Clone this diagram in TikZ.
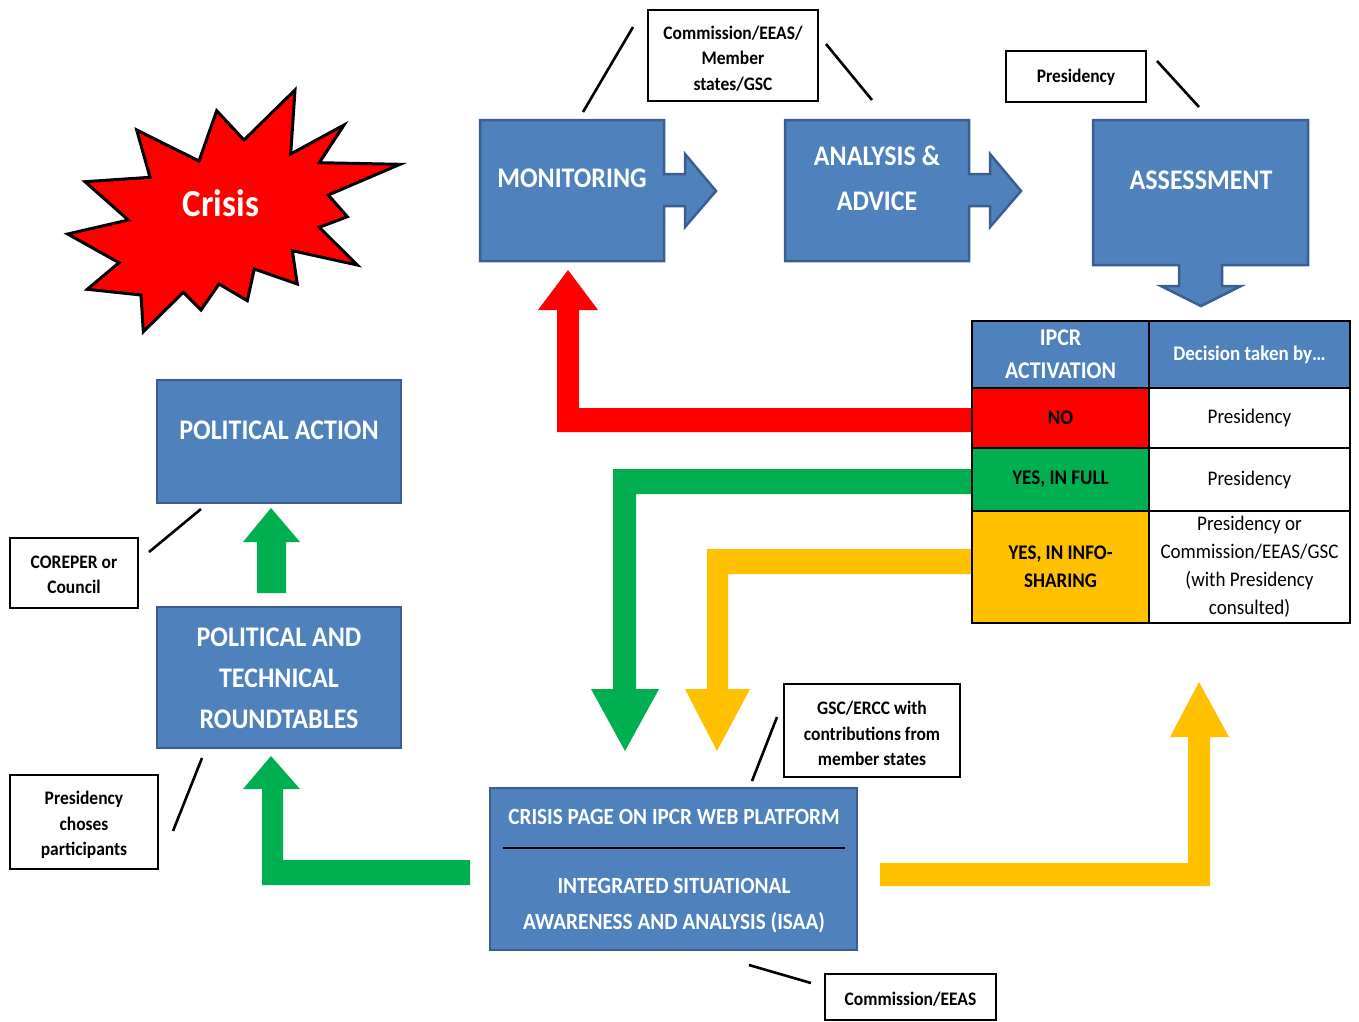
\documentclass[tikz,border=0pt]{standalone}
\usepackage{fontspec}
\setmainfont{Carlito}[FakeStretch=0.915]
\definecolor{ipblue}{HTML}{4F81BD}
\definecolor{ipborder}{HTML}{3A5F8F}
\definecolor{ipred}{HTML}{FF0000}
\definecolor{ipgreen}{HTML}{00B050}
\definecolor{ipyellow}{HTML}{FFC000}
\begin{document}
\begin{tikzpicture}[x=1pt,y=-1pt,line join=miter,
  bluebox/.style={fill=ipblue,draw=ipborder,line width=2.5pt},
  bigtxt/.style={text=white,font=\bfseries\fontsize{28.4}{45}\selectfont,align=center,inner sep=0pt},
  lblbox/.style={draw=black,line width=2.6pt,fill=white,inner sep=0pt},
  lbltxt/.style={align=center,inner sep=0pt,font=\bfseries\fontsize{19.1}{25.5}\selectfont},
  cell/.style={draw=black,line width=1.8pt,inner sep=0pt,align=center},
  tick/.style={line width=2.6pt,draw=black}]
\useasboundingbox (0,0) rectangle (1359,1021);

% ---------- Crisis star ----------
\filldraw[fill=ipred,draw=black,line width=3pt]
 (295,90) -- (290.7,154) -- (344,125) -- (319.3,162.7) -- (400,164.3) -- (328.3,195)
 -- (347.3,216.7) -- (319.3,227.3) -- (357.3,265) -- (292.3,250.7) -- (297.3,284)
 -- (254.3,269) -- (247.3,300.7) -- (219,284) -- (201,310) -- (183.3,292.3)
 -- (143.3,331.7) -- (141,295) -- (87.3,289.3) -- (119,262.7) -- (67.7,234)
 -- (128.3,220) -- (85,181.7) -- (150,177.3) -- (136.7,130) -- (199,161)
 -- (216.7,110.7) -- (244,140) -- cycle;
\node[text=white,font=\bfseries\fontsize{38.3}{40}\selectfont,inner sep=0pt] (crisis) at (221,203) {Crisis};

% ---------- top callout boxes ----------
\filldraw[bluebox] (480,120) -- (664,120) -- (664,174) -- (685,174) -- (685,154)
  -- (716,191) -- (685,227) -- (685,206) -- (664,206) -- (664,261) -- (480,261) -- cycle;
\node[bigtxt] (mon) at (572,178) {MONITORING};

\filldraw[bluebox] (785,120) -- (969,120) -- (969,174) -- (990,174) -- (990,154)
  -- (1021,191) -- (990,227) -- (990,206) -- (969,206) -- (969,261) -- (785,261) -- cycle;
\node[bigtxt] (ana) at (877,178) {ANALYSIS \&\\ADVICE};

\filldraw[bluebox] (1093,120) -- (1308,120) -- (1308,265) -- (1222,265) -- (1222,286)
  -- (1241,286) -- (1201,306) -- (1161,286) -- (1179,286) -- (1179,265) -- (1093,265) -- cycle;
\node[bigtxt] (ass) at (1201,180) {ASSESSMENT};

% ---------- label boxes (top) ----------
\node[lblbox,minimum width=170pt,minimum height=91pt] (lab1) at (733,55.5) {};
\node[lbltxt] (lab1t) at (733,58.5) {Commission/EEAS/\\Member\\states/GSC};
\draw[tick] (583,112) -- (633,27);
\draw[tick] (826,44) -- (872,100);
\node[lblbox,minimum width=140pt,minimum height=51pt] (lab2) at (1076,76.5) {};
\node[lbltxt] (lab2t) at (1076,77.5) {Presidency};
\draw[tick] (1157,61) -- (1199,107);

% ---------- coloured arrows ----------
\fill[ipred] (972,408) -- (579,408) -- (579,310) -- (598,310) -- (568,270) -- (538,310)
  -- (557,310) -- (557,432) -- (972,432) -- cycle;
\fill[ipgreen] (972,469) -- (613,469) -- (613,689) -- (591,689) -- (625,751) -- (659,689)
  -- (636,689) -- (636,494) -- (972,494) -- cycle;
\fill[ipyellow] (972,549) -- (707,549) -- (707,689) -- (685,689) -- (717,751) -- (750,689)
  -- (728,689) -- (728,574) -- (972,574) -- cycle;
\fill[ipyellow] (880,863) -- (1188,863) -- (1188,737) -- (1170,737) -- (1199,682) -- (1229,737)
  -- (1210,737) -- (1210,886) -- (880,886) -- cycle;
\fill[ipgreen] (470,860) -- (283,860) -- (283,789) -- (300,789) -- (271,756) -- (243,789)
  -- (262,789) -- (262,885) -- (470,885) -- cycle;
\fill[ipgreen] (257,593) -- (257,542) -- (243,542) -- (271,508) -- (300,542) -- (286,542)
  -- (286,593) -- cycle;

% ---------- table ----------
\node[cell,fill=ipblue,minimum width=177pt,minimum height=67pt,text=white,
  font=\bfseries\fontsize{24}{33}\selectfont] (h1) at (1060.5,354.5) {IPCR\\ACTIVATION};
\node[cell,fill=ipblue,minimum width=201pt,minimum height=67pt,text=white,
  font=\bfseries\fontsize{20.8}{28}\selectfont] (h2) at (1249.5,354.5) {Decision taken by\dots};
\node[cell,fill=ipred,minimum width=177pt,minimum height=60pt,
  font=\bfseries\fontsize{20.8}{28}\selectfont] (no) at (1060.5,418) {NO};
\node[cell,fill=white,minimum width=201pt,minimum height=60pt,
  font=\fontsize{20.8}{28}\selectfont] (no2) at (1249.5,418) {Presidency};
\node[cell,fill=ipgreen,minimum width=177pt,minimum height=63pt,
  font=\bfseries\fontsize{20.8}{28}\selectfont] (full) at (1060.5,479.5) {YES, IN FULL};
\node[cell,fill=white,minimum width=201pt,minimum height=63pt,
  font=\fontsize{20.8}{28}\selectfont] (full2) at (1249.5,479.5) {Presidency};
\node[cell,fill=ipyellow,minimum width=177pt,minimum height=112pt,
  font=\bfseries\fontsize{20.8}{28}\selectfont] (info) at (1060.5,567) {YES, IN INFO-\\SHARING};
\node[cell,fill=white,minimum width=201pt,minimum height=112pt,
  font=\fontsize{20.8}{28}\selectfont] (info2) at (1249.5,567)
  {Presidency or\\Commission/EEAS/GSC\\(with Presidency\\consulted)};

% ---------- left column ----------
\node[bluebox,minimum width=244pt,minimum height=123pt,inner sep=0pt] (pa) at (279,441.5) {};
\node[bigtxt] (patxt) at (279,430) {POLITICAL ACTION};
\node[bluebox,minimum width=244pt,minimum height=141pt,inner sep=0pt] (rt) at (279,677.5) {};
\node[bigtxt,font=\bfseries\fontsize{28.4}{41}\selectfont] (rttxt) at (279,678)
  {POLITICAL AND\\TECHNICAL\\ROUNDTABLES};
\node[lblbox,minimum width=128pt,minimum height=70pt] (lab3) at (74,573) {};
\node[lbltxt] (lab3t) at (74,575) {COREPER or\\Council};
\draw[tick] (149,552) -- (201,509);
\node[lblbox,minimum width=148pt,minimum height=94pt] (lab4) at (84,822) {};
\node[lbltxt] (lab4t) at (84,825) {Presidency\\choses\\participants};
\draw[tick] (173,831) -- (202,758);

% ---------- bottom box ----------
\node[bluebox,minimum width=367pt,minimum height=162pt,inner sep=0pt] (isaa) at (673.5,869) {};
\node[text=white,font=\bfseries\fontsize{23.2}{36}\selectfont,inner sep=0pt] (isaa1) at (674,817)
  {CRISIS PAGE ON IPCR WEB PLATFORM};
\draw[line width=1.5pt] (503,848) -- (845,848);
\node[text=white,font=\bfseries\fontsize{23.2}{36}\selectfont,align=center,inner sep=0pt] (isaa2)
  at (674,906) {INTEGRATED SITUATIONAL\\AWARENESS AND ANALYSIS (ISAA)};
\node[lblbox,minimum width=176pt,minimum height=93pt] (lab5) at (872,730.5) {};
\node[lbltxt] (lab5t) at (872,733.5) {GSC/ERCC with\\contributions from\\member states};
\draw[tick] (777,717) -- (752,781);
\node[lblbox,minimum width=171pt,minimum height=46pt] (lab6) at (910.5,997) {};
\node[lbltxt] (lab6t) at (910.5,999) {Commission/EEAS};
\draw[tick] (749,965) -- (811,983);
\end{tikzpicture}
\end{document}
